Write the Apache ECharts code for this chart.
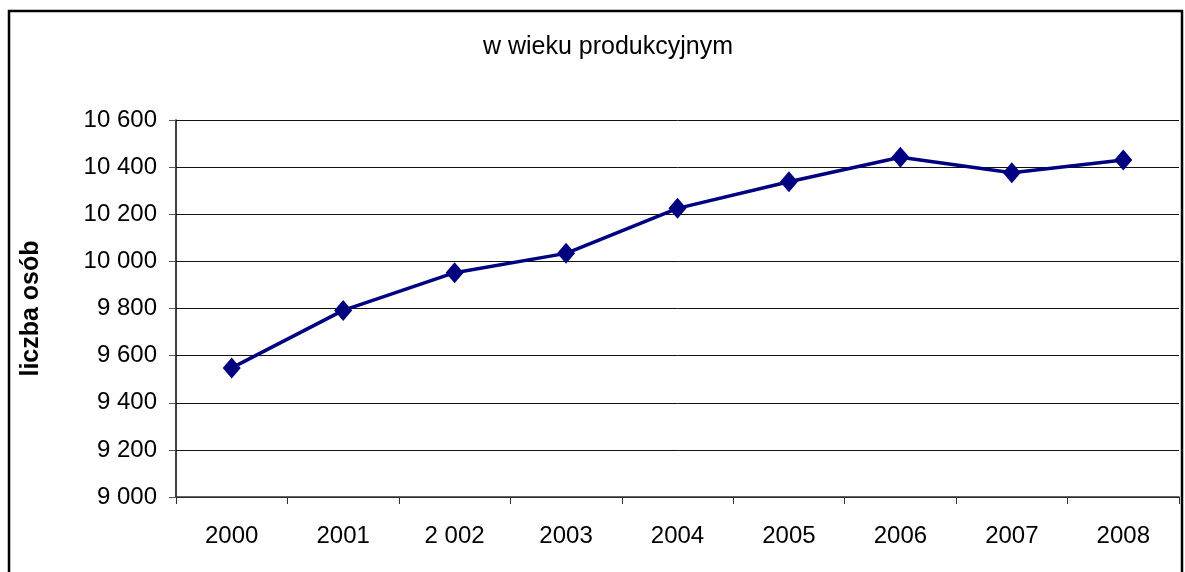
<!DOCTYPE html>
<html>
<head>
<meta charset="utf-8">
<script src="https://cdn.jsdelivr.net/npm/echarts@6/dist/echarts.min.js"></script>
<style>
  html, body { margin: 0; padding: 0; background: #fff; }
  #chart { width: 1185px; height: 572px; }
</style>
</head>
<body>
<div id="chart"></div>
<script>
// years on the x axis (as printed, incl. the odd "2 002")
const years = ['2000', '2001', '2 002', '2003', '2004', '2005', '2006', '2007', '2008']
// working-age population
const persons = [9548, 9792, 9952, 10034, 10225, 10338, 10442, 10376, 10430]

const font = '"Liberation Sans", Arial, sans-serif'
const spaced = (v) => String(v).replace(/\B(?=(\d{3})+(?!\d))/g, ' ')

const chart = echarts.init(document.getElementById('chart'))
chart.setOption({
  animation: false,
  backgroundColor: '#fff',
  textStyle: { fontFamily: font },
  title: {
    text: 'w wieku produkcyjnym',
    left: 603,
    textAlign: 'center',
    top: 30,
    textStyle: { fontFamily: font, fontSize: 25, fontWeight: 'normal', color: '#000' }
  },
  graphic: [
    {
      type: 'rect',
      shape: { x: 9, y: 11, width: 1173, height: 580 },
      style: { fill: 'none', stroke: '#000', lineWidth: 2.5 },
      silent: true
    }
  ],
  grid: { left: 176, right: 6, top: 120, bottom: 75 },
  xAxis: {
    type: 'category',
    data: years,
    boundaryGap: true,
    axisLine: { lineStyle: { color: '#333', width: 1.5 } },
    axisTick: { show: true, length: 7, interval: 0, lineStyle: { color: '#333' } },
    axisLabel: { color: '#000', fontSize: 24, fontFamily: font, margin: 27, interval: 0 }
  },
  yAxis: {
    type: 'value',
    min: 9000,
    max: 10600,
    interval: 200,
    name: 'liczba osób',
    nameLocation: 'middle',
    nameGap: 132,
    nameTextStyle: { color: '#000', fontSize: 25, fontWeight: 'bold', fontFamily: font },
    axisLine: { show: true, lineStyle: { color: '#000', width: 1.5 } },
    axisTick: { show: true, length: 7, lineStyle: { color: '#555' } },
    axisLabel: { color: '#000', fontSize: 24, fontFamily: font, margin: 19, formatter: spaced },
    splitLine: { lineStyle: { color: '#111', width: 1 } }
  },
  series: [
    {
      type: 'line',
      data: persons,
      symbol: 'diamond',
      symbolSize: [18, 21],
      lineStyle: { color: '#000080', width: 3.5 },
      itemStyle: { color: '#000080' }
    }
  ]
})
</script>
</body>
</html>
